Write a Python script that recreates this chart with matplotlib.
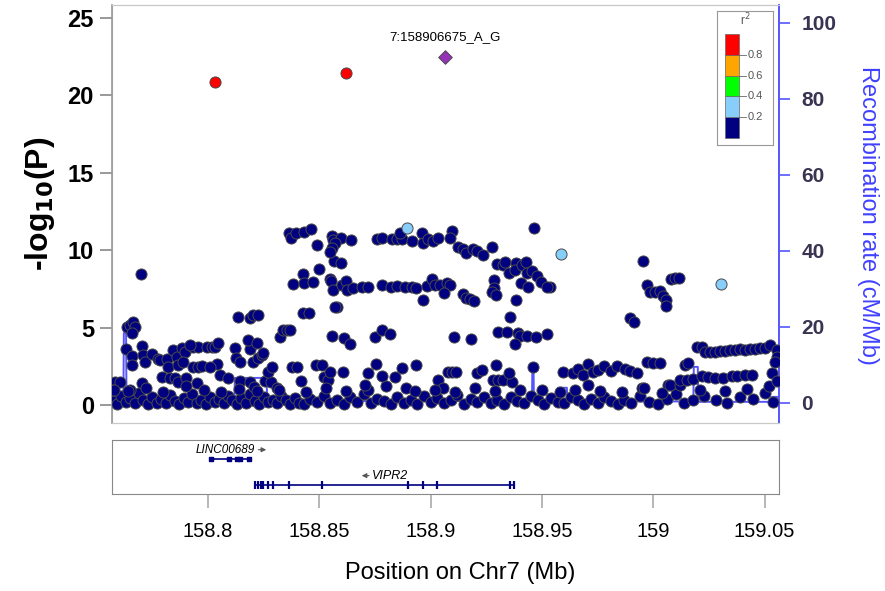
import matplotlib
matplotlib.use("Agg")
import matplotlib.pyplot as plt
from matplotlib.patches import Rectangle

plt.rcParams['font.family'] = ['Liberation Sans', 'DejaVu Sans']

# SNPs with r2 < 0.2 : (position Mb, -log10 P)
snps_band11 = [
    (158.8364, 11.11), (158.8373, 10.79), (158.8395, 11.11), (158.8431, 11.18), (158.8463, 11.37),
    (158.8490, 10.34), (158.8557, 10.92), (158.8562, 10.66), (158.8597, 10.79), (158.8571, 10.47),
    (158.8557, 10.14), (158.8548, 9.88), (158.8642, 10.66), (158.8759, 10.72), (158.8782, 10.79),
    (158.8827, 10.72), (158.8849, 10.72), (158.8872, 10.72), (158.8863, 11.11), (158.8916, 10.59),
    (158.8961, 11.11), (158.8966, 10.47), (158.8988, 10.72), (158.9011, 10.59), (158.9033, 10.79),
    (158.9096, 11.24), (158.9087, 10.79), (158.9123, 10.21), (158.9146, 10.08), (158.9159, 9.82),
    (158.9190, 10.08), (158.9208, 9.95), (158.9235, 9.69), (158.9276, 10.21), (158.9465, 11.43),
]
snps_band9 = [
    (158.8566, 9.30), (158.8597, 9.17), (158.9298, 9.11), (158.9325, 9.04), (158.9334, 9.24),
    (158.9352, 8.53), (158.9384, 9.17), (158.9379, 8.72), (158.9411, 9.04), (158.9429, 9.24),
    (158.9433, 8.53), (158.9456, 8.66), (158.9478, 8.33), (158.9496, 7.95), (158.9523, 7.62),
    (158.9406, 7.88), (158.9438, 7.62), (158.8499, 8.79), (158.9954, 9.30), (158.7699, 8.46),
]
snps_band7 = [
    (158.8427, 8.46), (158.8382, 7.82), (158.8431, 7.88), (158.8472, 7.95), (158.8548, 8.14),
    (158.8553, 8.01), (158.8562, 7.43), (158.8602, 7.75), (158.8620, 8.01), (158.8624, 7.43),
    (158.8651, 7.56), (158.8692, 7.62), (158.8719, 7.62), (158.8782, 7.75), (158.8822, 7.62),
    (158.8849, 7.69), (158.8885, 7.62), (158.8916, 7.62), (158.8934, 7.56), (158.8984, 7.69),
    (158.9006, 8.14), (158.9020, 7.75), (158.9042, 7.75), (158.9074, 7.88), (158.9087, 7.75),
    (158.9060, 7.24), (158.9146, 7.17), (158.9159, 6.91), (158.9177, 6.85), (158.9195, 6.72),
    (158.9285, 8.07), (158.9285, 7.56), (158.9276, 7.30), (158.9294, 7.11), (158.9536, 7.62),
    (158.9972, 7.75), (158.9986, 7.30), (159.0008, 7.30), (159.0031, 7.36), (159.0044, 7.04),
    (159.0058, 6.78), (159.0058, 6.40), (159.0080, 8.14), (159.0098, 8.20), (159.0116, 8.20),
    (158.8580, 6.33), (158.8571, 6.33), (158.8966, 6.78), (158.9384, 6.78),
]
snps_band5 = [
    (158.7636, 5.04), (158.7650, 5.17), (158.7663, 5.36), (158.7672, 5.04), (158.7659, 4.65),
    (158.8135, 5.68), (158.8189, 5.62), (158.8202, 5.81), (158.8225, 5.81), (158.8427, 5.94),
    (158.8454, 5.94), (158.8323, 4.39), (158.8337, 4.84), (158.8355, 4.84), (158.8368, 4.84),
    (158.8557, 4.46), (158.8611, 4.33), (158.8638, 3.94), (158.8750, 4.39), (158.8782, 4.84),
    (158.8818, 4.59), (158.8180, 4.20), (158.8220, 4.01), (158.9105, 4.39), (158.9181, 4.26),
    (158.9303, 4.72), (158.9343, 4.72), (158.9393, 4.65), (158.9402, 4.46), (158.9433, 4.46),
    (158.9473, 4.39), (158.9523, 4.59), (158.9379, 3.94), (158.9357, 5.68), (158.9896, 5.62),
    (158.9914, 5.36), (158.8045, 4.01), (158.7919, 3.88),
]
snps_band3 = [
    (158.7632, 3.62), (158.7659, 3.17), (158.7659, 2.58), (158.7704, 3.81), (158.7708, 3.23),
    (158.7717, 2.78), (158.7748, 3.29), (158.7775, 2.97), (158.7784, 2.91), (158.7816, 2.97),
    (158.7820, 2.45), (158.7843, 3.55), (158.7861, 3.10), (158.7865, 2.58), (158.7883, 3.68),
    (158.7897, 3.42), (158.7933, 3.75), (158.7955, 3.75), (158.7888, 2.78), (158.7933, 2.45),
    (158.7955, 2.45), (158.7973, 2.52), (158.7996, 3.75), (158.8018, 3.75), (158.8031, 3.75),
    (158.8040, 2.65), (158.8009, 2.45), (158.8121, 3.68), (158.8126, 3.04), (158.8144, 2.78),
    (158.8189, 3.62), (158.8202, 2.78), (158.8225, 3.04), (158.8243, 3.23), (158.8247, 3.36),
    (158.8270, 2.13), (158.8288, 2.45), (158.8377, 2.45), (158.8400, 2.45), (158.8485, 2.58),
    (158.8512, 2.58), (158.8548, 2.13), (158.8606, 2.13), (158.8705, 1.29), (158.8719, 2.07),
    (158.8755, 2.65), (158.8782, 1.87), (158.8872, 2.39), (158.8934, 2.58), (158.9078, 2.13),
    (158.9096, 2.13), (158.9114, 2.13), (158.9208, 2.07), (158.9231, 2.26), (158.9294, 2.58),
    (158.9352, 2.07), (158.9460, 2.45), (158.9595, 2.13), (158.9640, 2.07), (158.9662, 2.33),
    (158.9685, 1.94), (158.9707, 2.65), (158.9730, 2.13), (158.9752, 2.26), (158.9779, 2.52),
    (158.9810, 2.20), (158.9837, 2.52), (158.9873, 2.33), (158.9896, 2.20), (158.9927, 2.07),
    (158.9972, 2.78), (158.9999, 2.71), (159.0031, 2.71), (159.0143, 2.58), (159.0156, 2.71),
    (159.0120, 1.61), (159.0152, 1.61), (159.0179, 1.68), (159.0219, 1.87), (159.0246, 1.81),
    (159.0278, 1.74), (159.0314, 1.74), (159.0354, 1.87), (159.0376, 1.87), (159.0412, 1.94),
    (159.0444, 1.94), (159.0534, 2.07), (159.0556, 1.55),
    (159.0197, 3.75), (159.0219, 3.75), (159.0233, 3.42), (159.0255, 3.42), (159.0278, 3.42),
    (159.0300, 3.49), (159.0323, 3.49), (159.0345, 3.55), (159.0367, 3.55), (159.0390, 3.62),
    (159.0412, 3.55), (159.0435, 3.62), (159.0457, 3.62), (159.0480, 3.68), (159.0502, 3.68),
    (159.0525, 3.88), (159.0556, 3.55), (159.0556, 3.10), (159.0547, 2.78),
]
snps_band1 = [
    (158.7582, 1.49), (158.7605, 1.49), (158.7704, 1.42), (158.7650, 0.97), (158.7573, 0.97),
    (158.7793, 1.81), (158.7829, 1.74), (158.7852, 1.74), (158.7865, 1.49), (158.7901, 1.74),
    (158.7951, 1.42), (158.8054, 1.94), (158.8090, 1.74), (158.8144, 1.55), (158.8189, 1.49),
    (158.8207, 1.16), (158.8256, 1.55), (158.8283, 1.49), (158.8310, 1.10), (158.8418, 1.55),
    (158.8521, 1.81), (158.8539, 1.61), (158.8840, 1.81), (158.8889, 1.10), (158.9033, 1.61),
    (158.9056, 1.10), (158.9280, 1.61), (158.9303, 1.61), (158.9325, 1.61), (158.9366, 1.49),
    (158.9707, 1.29), (158.9950, 1.10), (159.0066, 1.29), (159.0075, 1.29),
    (158.758, 1.00), (158.764, 0.90), (158.772, 1.10), (158.780, 0.85), (158.790, 1.20),
    (158.798, 0.95), (158.806, 0.85), (158.814, 1.05), (158.822, 0.90), (158.832, 1.00),
    (158.844, 0.85), (158.853, 1.10), (158.862, 0.90), (158.872, 0.95), (158.880, 1.20),
    (158.893, 0.90), (158.902, 1.00), (158.911, 0.85), (158.920, 1.10), (158.929, 0.90),
    (158.940, 0.95), (158.950, 1.00), (158.958, 0.85), (158.965, 1.00), (158.976, 0.90),
    (158.986, 0.85), (158.996, 1.10), (159.004, 0.80), (159.012, 1.30), (159.021, 1.00),
    (159.032, 0.90), (159.042, 1.05), (159.052, 1.25),
]
snps_band0 = [
    (158.757, 0.35), (158.759, 0.05), (158.761, 0.60), (158.763, 0.20), (158.765, 0.45),
    (158.767, 0.10), (158.769, 0.75), (158.771, 0.30), (158.773, 0.05), (158.775, 0.50),
    (158.777, 0.15), (158.779, 0.40), (158.781, 0.10), (158.783, 0.65), (158.785, 0.25),
    (158.787, 0.05), (158.789, 0.45), (158.791, 0.20), (158.793, 0.70), (158.795, 0.10),
    (158.797, 0.35), (158.799, 0.05), (158.801, 0.55), (158.803, 0.20), (158.805, 0.40),
    (158.807, 0.10), (158.809, 0.60), (158.811, 0.30), (158.813, 0.05), (158.815, 0.45),
    (158.817, 0.15), (158.819, 0.70), (158.821, 0.25), (158.823, 0.05), (158.825, 0.50),
    (158.827, 0.20), (158.829, 0.35), (158.831, 0.10), (158.833, 0.60), (158.835, 0.30),
    (158.837, 0.05), (158.839, 0.45), (158.841, 0.15), (158.843, 0.05), (158.846, 0.40),
    (158.849, 0.20), (158.852, 0.60), (158.855, 0.10), (158.858, 0.35), (158.861, 0.05),
    (158.864, 0.50), (158.867, 0.20), (158.870, 0.70), (158.873, 0.10), (158.876, 0.40),
    (158.879, 0.25), (158.882, 0.05), (158.885, 0.55), (158.888, 0.15), (158.891, 0.35),
    (158.894, 0.05), (158.897, 0.60), (158.900, 0.20), (158.903, 0.45), (158.906, 0.10),
    (158.909, 0.30), (158.912, 0.65), (158.915, 0.05), (158.918, 0.40), (158.921, 0.20),
    (158.924, 0.55), (158.927, 0.10), (158.930, 0.35), (158.933, 0.05), (158.936, 0.50),
    (158.939, 0.25), (158.942, 0.10), (158.945, 0.60), (158.948, 0.30), (158.951, 0.05),
    (158.954, 0.45), (158.957, 0.20), (158.960, 0.10), (158.963, 0.50), (158.966, 0.30),
    (158.969, 0.05), (158.972, 0.40), (158.975, 0.15), (158.978, 0.55), (158.981, 0.25),
    (158.984, 0.05), (158.987, 0.35), (158.990, 0.10), (158.994, 0.60), (158.998, 0.20),
    (159.002, 0.05), (159.006, 0.40), (159.010, 0.70), (159.014, 0.15), (159.018, 0.35),
    (159.023, 0.60), (159.028, 0.30), (159.033, 0.15), (159.039, 0.50), (159.045, 0.40),
    (159.050, 0.75), (159.054, 0.20),
]

# r2 0.2-0.4 and r2 > 0.8
snps_lightblue = [(158.8894, 11.43), (158.9586, 9.75), (159.0305, 7.82)]
snps_red = [(158.8031, 20.87), (158.8620, 21.45)]
lead_pos, lead_logp = 158.906675, 22.48
lead_name = "7:158906675_A_G"

# recombination rate (cM/Mb)
recomb_pos = [158.7569, 158.7620, 158.7622, 158.7632, 158.7634, 158.8118, 158.8121, 158.8263,
              158.8266, 158.9278, 158.9280, 158.9300, 158.9302, 158.9455, 158.9457, 158.9462,
              158.9464, 158.9570, 158.9572, 158.9612, 158.9614, 159.0180, 159.0182, 159.0200,
              159.0202, 159.0530, 159.0532, 159.0565]
recomb_rate = [0.3, 0.3, 18.4, 18.4, 0.6, 0.6, 6.6, 6.6,
               0.5, 0.5, 2.6, 2.6, 0.5, 0.5, 9.5, 9.5,
               0.5, 0.5, 4.0, 4.0, 0.4, 0.4, 9.5, 9.5,
               0.3, 0.3, 1.6, 1.6]

# genes
linc_exons = [158.8013, 158.8094, 158.8130, 158.8144, 158.8184]
vipr2_exons = [158.8211, 158.8225, 158.8238, 158.8247, 158.8270, 158.8292, 158.8364,
               158.8512, 158.8898, 158.8966, 158.9029, 158.9357, 158.9375]

xticks = [158.8, 158.85, 158.9, 158.95, 159.0, 159.05]
xtick_labels = ["158.8", "158.85", "158.9", "158.95", "159", "159.05"]

legend_colors = ["#000080", "#87CEFA", "#00FF00", "#FFA500", "#FF0000"]
legend_labels = ["0.2", "0.4", "0.6", "0.8"]

fig = plt.figure(figsize=(8.85, 5.91), dpi=100)
ax = fig.add_axes([0.1266, 0.2843, 0.7537, 0.7073])
ax2 = ax.twinx()
ax.set_zorder(ax2.get_zorder() + 1)
ax.patch.set_visible(False)

ax2.plot(recomb_pos, recomb_rate, color="#5555FF", lw=1.4)

navy = snps_band0 + snps_band1 + snps_band3 + snps_band5 + snps_band7 + snps_band9 + snps_band11
kw = dict(s=64, edgecolors="#4a4a4a", linewidths=0.7, zorder=3)
ax.scatter([p for p, _ in navy], [v for _, v in navy], c="#000080", **kw)
ax.scatter([p for p, _ in snps_lightblue], [v for _, v in snps_lightblue], c="#87CEFA", **kw)
ax.scatter([p for p, _ in snps_red], [v for _, v in snps_red], c="#FF0000", **kw)
ax.scatter([lead_pos], [lead_logp], marker="D", s=48, c="#9632B8", edgecolors="#4a4a4a",
           linewidths=0.7, zorder=4)
ax.text(lead_pos, lead_logp + 0.9, lead_name, ha="center", va="bottom", fontsize=9.5)

ax.set_xlim(158.7569, 159.0565)
ax.set_ylim(-1.16, 25.84)
ax2.set_ylim(-5.26, 104.7)
ax.set_yticks([0, 5, 10, 15, 20, 25])
ax.tick_params(axis="x", bottom=False, labelbottom=False)
ax.tick_params(axis="y", length=9, width=1.2, color="#888888", labelsize=17, pad=4)
for t in ax.get_yticklabels():
    t.set_fontweight("bold")
ax2.set_yticks([0, 20, 40, 60, 80, 100])
ax2.tick_params(axis="y", length=8, width=1.2, color="#5555FF", labelsize=15,
                labelcolor="#3a3452", pad=8)
for t in ax2.get_yticklabels():
    t.set_fontweight("bold")
for a in (ax, ax2):
    for side in ("top", "left", "bottom"):
        a.spines[side].set_color("#c8c8c8")
    a.spines["right"].set_color("#5555FF")
    a.spines["right"].set_linewidth(1.2)
ax.spines["left"].set_color("#999999")
ax.spines["left"].set_linewidth(1.2)

fig.text(0.045, 0.655, r"-log$_{\mathbf{10}}$(P)", rotation=90, ha="center", va="center",
         fontsize=23, fontweight="bold")
fig.text(0.981, 0.636, "Recombination rate (cM/Mb)", rotation=270, ha="center", va="center",
         fontsize=17, color="#4040FF")

# gene track
gax = fig.add_axes([0.1266, 0.1641, 0.7537, 0.0914])
gax.set_xlim(ax.get_xlim())
gax.set_ylim(0, 1)
gax.set_yticks([])
gax.set_xticks(xticks)
gax.set_xticklabels(xtick_labels, fontsize=14.5)
gax.tick_params(axis="x", length=10, width=1.2, color="#aaaaaa", pad=10)
for s in gax.spines.values():
    s.set_color("#888888")

gene_col = "#000080"
arrow_kw = dict(arrowstyle="-|>", color="#555555", lw=0.8, mutation_scale=7)
gax.plot([linc_exons[0], linc_exons[-1]], [0.65, 0.65], color=gene_col, lw=1.2)
gax.scatter(linc_exons, [0.65] * len(linc_exons), marker="s", s=9, color=gene_col)
gax.text(158.8076, 0.82, "LINC00689", ha="center", va="center", fontsize=8.5, style="italic")
gax.annotate("", xy=(158.8274, 0.82), xytext=(158.8214, 0.82), arrowprops=arrow_kw)
gax.plot([vipr2_exons[0], vipr2_exons[-1]], [0.17, 0.17], color=gene_col, lw=1.2)
gax.plot(vipr2_exons, [0.17] * len(vipr2_exons), "|", color=gene_col, ms=6, mew=1.6)
gax.text(158.8818, 0.34, "VIPR2", ha="center", va="center", fontsize=9, style="italic")
gax.annotate("", xy=(158.8678, 0.34), xytext=(158.8736, 0.34), arrowprops=arrow_kw)

fig.text(0.52, 0.0305, "Position on Chr7 (Mb)", ha="center", va="center", fontsize=17)

# r2 legend
lax = fig.add_axes([0.8102, 0.7547, 0.0633, 0.2267])
lax.set_xlim(0, 1)
lax.set_ylim(0, 1)
lax.set_xticks([])
lax.set_yticks([])
for s in lax.spines.values():
    s.set_color("#999999")
cell_h = 0.155
for i, col in enumerate(legend_colors):
    lax.add_patch(Rectangle((0.143, 0.052 + i * cell_h), 0.25, cell_h, facecolor=col,
                            edgecolor="#666666", lw=0.5))
for i, lab in enumerate(legend_labels):
    yy = 0.052 + (i + 1) * cell_h
    lax.plot([0.393, 0.52], [yy, yy], color="#666666", lw=0.6)
    lax.text(0.55, yy, lab, ha="left", va="center", fontsize=8, color="#555555")
lax.text(0.5, 0.93, r"r$^2$", ha="center", va="center", fontsize=8.5, color="#555555")

fig.savefig("out.png", dpi=100)
